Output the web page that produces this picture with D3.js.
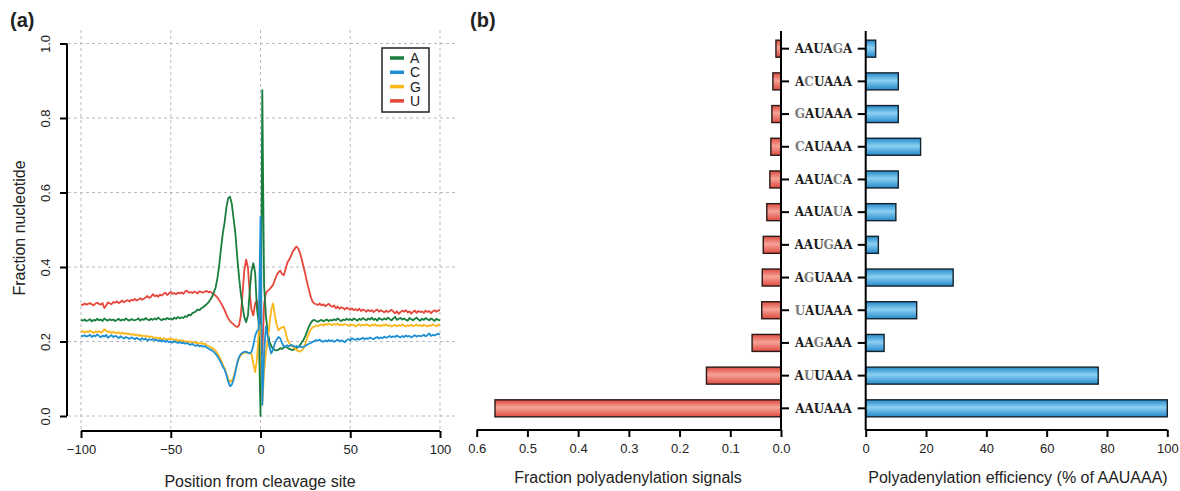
<!DOCTYPE html>
<html>
<head>
<meta charset="utf-8">
<script src="https://cdn.jsdelivr.net/npm/d3@7"></script>
<style>
  body { margin: 0; background: #fff; }
  svg { display: block; font-family: "Liberation Sans", Arial, sans-serif; }
</style>
</head>
<body>
<svg id="chart" width="1180" height="491"></svg>
<script>
// ---- panel (a): nucleotide profile around the cleavage site ----
const positions = d3.range(-100, 101);

const fracU = [
  0.300,0.298,0.302,0.299,0.301,0.303,0.300,0.297,0.302,0.304,
  0.301,0.299,0.303,0.290,0.296,0.305,0.302,0.300,0.306,0.304,
  0.308,0.303,0.306,0.310,0.305,0.309,0.311,0.307,0.312,0.310,
  0.314,0.310,0.313,0.316,0.312,0.315,0.318,0.322,0.317,0.320,
  0.327,0.322,0.324,0.320,0.326,0.323,0.328,0.331,0.325,0.329,
  0.333,0.328,0.330,0.327,0.331,0.329,0.332,0.328,0.334,0.337,
  0.331,0.333,0.330,0.334,0.332,0.329,0.335,0.333,0.331,0.334,
  0.336,0.332,0.334,0.330,0.327,0.323,0.318,0.311,0.303,0.294,
  0.284,0.272,0.262,0.255,0.250,0.246,0.241,0.239,0.243,0.268,
  0.330,0.392,0.420,0.398,0.330,0.285,0.270,0.302,0.310,0.285,
  0.205,0.165,0.300,0.330,0.336,0.340,0.346,0.352,0.365,0.378,
  0.386,0.390,0.381,0.378,0.395,0.412,0.420,0.430,0.442,0.448,
  0.455,0.450,0.438,0.420,0.400,0.380,0.358,0.338,0.320,0.307,
  0.302,0.300,0.298,0.302,0.297,0.300,0.295,0.298,0.301,0.296,
  0.293,0.297,0.289,0.294,0.288,0.292,0.290,0.286,0.291,0.288,
  0.285,0.289,0.284,0.287,0.283,0.288,0.282,0.286,0.284,0.280,
  0.285,0.281,0.284,0.279,0.283,0.286,0.280,0.284,0.281,0.278,
  0.283,0.279,0.282,0.285,0.280,0.276,0.281,0.274,0.279,0.283,
  0.280,0.284,0.278,0.281,0.275,0.280,0.283,0.277,0.282,0.279,
  0.281,0.277,0.283,0.279,0.282,0.276,0.281,0.284,0.280,0.283,0.285
];

const fracA = [
  0.258,0.256,0.259,0.255,0.257,0.260,0.254,0.258,0.256,0.261,
  0.257,0.259,0.255,0.262,0.258,0.256,0.260,0.257,0.259,0.255,
  0.258,0.261,0.256,0.259,0.257,0.262,0.258,0.256,0.260,0.258,
  0.257,0.259,0.262,0.256,0.260,0.258,0.263,0.259,0.257,0.261,
  0.258,0.262,0.259,0.264,0.260,0.257,0.261,0.259,0.263,0.260,
  0.262,0.259,0.264,0.261,0.266,0.262,0.265,0.263,0.268,0.266,
  0.272,0.270,0.276,0.278,0.281,0.286,0.284,0.289,0.292,0.296,
  0.300,0.305,0.312,0.320,0.332,0.345,0.370,0.405,0.450,0.490,
  0.520,0.560,0.585,0.589,0.570,0.530,0.490,0.430,0.375,0.330,
  0.295,0.265,0.252,0.270,0.335,0.390,0.410,0.385,0.290,0.250,
  0.000,0.875,0.350,0.270,0.225,0.200,0.188,0.180,0.177,0.176,
  0.178,0.182,0.180,0.184,0.186,0.183,0.180,0.178,0.177,0.180,
  0.182,0.185,0.190,0.198,0.205,0.215,0.228,0.240,0.250,0.256,
  0.258,0.255,0.253,0.256,0.258,0.254,0.257,0.259,0.255,0.258,
  0.256,0.260,0.257,0.262,0.258,0.255,0.259,0.257,0.261,0.258,
  0.260,0.257,0.262,0.259,0.256,0.261,0.258,0.263,0.260,0.257,
  0.262,0.259,0.264,0.258,0.261,0.256,0.263,0.260,0.258,0.262,
  0.259,0.264,0.260,0.257,0.262,0.266,0.258,0.261,0.263,0.259,
  0.262,0.258,0.256,0.263,0.260,0.257,0.261,0.264,0.259,0.256,
  0.261,0.258,0.263,0.260,0.257,0.262,0.259,0.255,0.261,0.258,0.257
];

const fracC = [
  0.216,0.214,0.217,0.213,0.215,0.218,0.212,0.216,0.214,0.219,
  0.215,0.211,0.216,0.213,0.218,0.210,0.214,0.217,0.212,0.215,
  0.213,0.209,0.214,0.211,0.208,0.212,0.210,0.207,0.211,0.209,
  0.206,0.210,0.207,0.204,0.209,0.205,0.208,0.203,0.206,0.204,
  0.207,0.203,0.205,0.201,0.204,0.200,0.203,0.199,0.202,0.198,
  0.200,0.197,0.201,0.198,0.196,0.199,0.195,0.197,0.194,0.196,
  0.193,0.191,0.194,0.190,0.188,0.191,0.187,0.189,0.186,0.188,
  0.184,0.181,0.178,0.176,0.172,0.167,0.160,0.152,0.143,0.132,
  0.125,0.110,0.092,0.080,0.084,0.097,0.118,0.142,0.158,0.166,
  0.170,0.172,0.173,0.170,0.168,0.172,0.190,0.215,0.228,0.232,
  0.535,0.030,0.170,0.240,0.215,0.185,0.168,0.178,0.195,0.205,
  0.212,0.208,0.196,0.186,0.188,0.190,0.187,0.191,0.189,0.186,
  0.188,0.185,0.187,0.184,0.186,0.188,0.191,0.194,0.196,0.199,
  0.201,0.204,0.202,0.205,0.201,0.199,0.203,0.200,0.204,0.201,
  0.203,0.199,0.202,0.205,0.200,0.203,0.201,0.198,0.204,0.206,
  0.203,0.209,0.206,0.204,0.208,0.205,0.207,0.210,0.206,0.209,
  0.207,0.211,0.208,0.206,0.210,0.212,0.208,0.211,0.209,0.213,
  0.210,0.212,0.215,0.211,0.214,0.212,0.216,0.213,0.211,0.215,
  0.212,0.216,0.213,0.215,0.211,0.214,0.217,0.213,0.216,0.214,
  0.215,0.218,0.214,0.217,0.222,0.215,0.218,0.216,0.219,0.221,0.218
];

const fracG = [
  0.226,0.228,0.224,0.227,0.225,0.229,0.226,0.223,0.227,0.225,
  0.228,0.224,0.226,0.233,0.229,0.225,0.227,0.223,0.226,0.224,
  0.222,0.225,0.221,0.224,0.220,0.223,0.219,0.221,0.218,0.220,
  0.217,0.219,0.215,0.218,0.214,0.216,0.213,0.215,0.211,0.214,
  0.212,0.209,0.211,0.208,0.210,0.206,0.209,0.207,0.205,0.208,
  0.205,0.207,0.203,0.206,0.202,0.204,0.201,0.203,0.199,0.201,
  0.198,0.200,0.197,0.199,0.195,0.197,0.194,0.196,0.193,0.195,
  0.190,0.188,0.185,0.183,0.180,0.175,0.168,0.160,0.150,0.138,
  0.128,0.114,0.100,0.092,0.095,0.104,0.122,0.140,0.155,0.163,
  0.167,0.170,0.171,0.169,0.170,0.165,0.140,0.118,0.150,0.225,
  0.245,0.030,0.120,0.170,0.200,0.245,0.285,0.302,0.270,0.245,
  0.230,0.235,0.238,0.240,0.225,0.205,0.196,0.190,0.186,0.182,
  0.178,0.174,0.173,0.176,0.182,0.195,0.210,0.222,0.232,0.238,
  0.240,0.243,0.241,0.244,0.246,0.243,0.247,0.245,0.248,0.246,
  0.244,0.247,0.245,0.248,0.243,0.246,0.244,0.247,0.245,0.242,
  0.246,0.243,0.245,0.240,0.244,0.246,0.242,0.245,0.243,0.246,
  0.244,0.241,0.245,0.243,0.246,0.242,0.244,0.241,0.245,0.243,
  0.246,0.242,0.244,0.240,0.243,0.245,0.241,0.244,0.242,0.246,
  0.243,0.240,0.244,0.242,0.245,0.241,0.243,0.246,0.242,0.244,
  0.241,0.245,0.243,0.240,0.244,0.242,0.246,0.243,0.241,0.245,0.244
];

const nucleotides = ["A", "C", "G", "U"];
const nucColors = ["#187d3d", "#1f8fd3", "#fbb61a", "#e5473b"];
const xTicksA = [-100, -50, 0, 50, 100];
const yTicksA = [0, 0.2, 0.4, 0.6, 0.8, 1.0];

// ---- panel (b): polyadenylation signals ----
const motifs = ["AAUAGA", "ACUAAA", "GAUAAA", "CAUAAA", "AAUACA", "AAUAUA",
                "AAUGAA", "AGUAAA", "UAUAAA", "AAGAAA", "AUUAAA", "AAUAAA"];
const signalFraction = [0.010, 0.016, 0.018, 0.020, 0.022, 0.028,
                        0.035, 0.037, 0.038, 0.057, 0.147, 0.564];
const efficiency = [3.3, 10.8, 10.8, 18.2, 10.8, 10.0,
                    4.2, 29.0, 16.9, 6.1, 77.1, 100];
const fracTicks = [0.6, 0.5, 0.4, 0.3, 0.2, 0.1, 0.0];
const effTicks = [0, 20, 40, 60, 80, 100];
const canonical = "AAUAAA";

const svg = d3.select("#chart");
const grey = "#b9b9b9";

// gradients for bars
const defs = svg.append("defs");
function addGradient(id, edge, mid) {
  const g = defs.append("linearGradient").attr("id", id)
    .attr("x1", 0).attr("y1", 0).attr("x2", 0).attr("y2", 1);
  g.append("stop").attr("offset", "0%").attr("stop-color", edge);
  g.append("stop").attr("offset", "45%").attr("stop-color", mid);
  g.append("stop").attr("offset", "100%").attr("stop-color", edge);
}
addGradient("redGrad", "#de4a3f", "#f6a398");
addGradient("blueGrad", "#2589c9", "#8cd0f3");

// ================= panel (a) =================
const x = d3.scaleLinear().domain([-100, 100]).range([81, 440]);
const y = d3.scaleLinear().domain([0, 1]).range([416, 43.5]);
const ga = svg.append("g");

// grid
ga.selectAll(".vgrid").data(xTicksA).join("line")
  .attr("x1", d => x(d)).attr("x2", d => x(d))
  .attr("y1", 30).attr("y2", 430)
  .attr("stroke", grey).attr("stroke-dasharray", "3,3");
ga.selectAll(".hgrid").data(yTicksA).join("line")
  .attr("x1", 68).attr("x2", 455)
  .attr("y1", d => y(d)).attr("y2", d => y(d))
  .attr("stroke", grey).attr("stroke-dasharray", "3,3");

// lines
const series = [fracA, fracC, fracG, fracU];
const line = d3.line().x((d, i) => x(positions[i])).y(d => y(d));
const drawOrder = [3, 0, 2, 1];
drawOrder.forEach(k => {
  ga.append("path").datum(series[k])
    .attr("d", line)
    .attr("fill", "none")
    .attr("stroke", nucColors[k])
    .attr("stroke-width", 1.8)
    .attr("stroke-linejoin", "round");
});

// axes
const yAxisA = ga.append("g").attr("transform", "translate(67,0)")
  .call(d3.axisLeft(y).tickValues(yTicksA).tickSize(7).tickFormat(d3.format(".1f")));
yAxisA.select(".domain").attr("d", `M0,${y(0)}V${y(1)}`).attr("stroke-width", 2);
yAxisA.selectAll(".tick line").attr("stroke-width", 2);
yAxisA.selectAll(".tick text")
  .attr("transform", "translate(-17,0) rotate(-90)")
  .attr("x", 0).attr("dy", 0).attr("y", 0)
  .attr("text-anchor", "middle")
  .attr("font-size", 13).attr("fill", "#222");

const xAxisA = ga.append("g").attr("transform", "translate(0,431)")
  .call(d3.axisBottom(x).tickValues(xTicksA).tickSize(7)
    .tickFormat(d => d < 0 ? "\u2212" + Math.abs(d) : d));
xAxisA.select(".domain").attr("d", `M${x(-100)},0H${x(100)}`).attr("stroke-width", 2);
xAxisA.selectAll(".tick line").attr("stroke-width", 2);
xAxisA.selectAll(".tick text").attr("y", 14).attr("font-size", 13).attr("fill", "#222");

ga.append("text").attr("x", 260).attr("y", 487)
  .attr("text-anchor", "middle").attr("font-size", 16).attr("fill", "#222")
  .text("Position from cleavage site");
ga.append("text").attr("transform", "translate(25,228) rotate(-90)")
  .attr("text-anchor", "middle").attr("font-size", 16).attr("fill", "#222")
  .text("Fraction nucleotide");

// legend
const lg = ga.append("g");
lg.append("rect").attr("x", 382).attr("y", 48).attr("width", 47).attr("height", 64)
  .attr("fill", "#fff").attr("stroke", "#222").attr("stroke-width", 1.5);
nucleotides.forEach((n, i) => {
  const yy = 58 + i * 14.3;
  lg.append("line").attr("x1", 390).attr("x2", 404).attr("y1", yy).attr("y2", yy)
    .attr("stroke", nucColors[i]).attr("stroke-width", 3.5);
  lg.append("text").attr("x", 410).attr("y", yy).attr("dy", "0.36em")
    .attr("font-size", 14).attr("fill", "#222").text(n);
});

ga.append("text").attr("x", 10).attr("y", 27).attr("font-size", 20)
  .attr("font-weight", "bold").attr("fill", "#222").text("(a)");

// ================= panel (b) =================
const gb = svg.append("g");
const band = d3.scaleBand().domain(motifs).range([32, 425])
  .paddingInner(0.48).paddingOuter(0.25);
const xf = d3.scaleLinear().domain([0, 0.6]).range([781, 476.7]);
const xe = d3.scaleLinear().domain([0, 100]).range([865.7, 1167.3]);

gb.selectAll(".fbar").data(motifs).join("rect")
  .attr("x", (d, i) => xf(signalFraction[i]))
  .attr("y", d => band(d))
  .attr("width", (d, i) => xf(0) - xf(signalFraction[i]))
  .attr("height", band.bandwidth())
  .attr("fill", "url(#redGrad)")
  .attr("stroke", "#2a1a18").attr("stroke-width", 1.4);

gb.selectAll(".ebar").data(motifs).join("rect")
  .attr("x", xe(0))
  .attr("y", d => band(d))
  .attr("width", (d, i) => xe(efficiency[i]) - xe(0))
  .attr("height", band.bandwidth())
  .attr("fill", "url(#blueGrad)")
  .attr("stroke", "#14232e").attr("stroke-width", 1.4);

// category axes
const yLeft = gb.append("g").attr("transform", "translate(781,0)")
  .call(d3.axisRight(band).tickSize(8).tickFormat(""));
yLeft.select(".domain").attr("d", "M0,31V430").attr("stroke-width", 2);
yLeft.selectAll(".tick line").attr("stroke-width", 2);

const yRight = gb.append("g").attr("transform", "translate(865.7,0)")
  .call(d3.axisLeft(band).tickSize(8).tickFormat(""));
yRight.select(".domain").attr("d", "M0,31V430").attr("stroke-width", 2);
yRight.selectAll(".tick line").attr("stroke-width", 2);

// motif labels, the letter differing from the canonical signal in grey
motifs.forEach(m => {
  const t = gb.append("text")
    .attr("x", 823.5).attr("y", band(m) + band.bandwidth() / 2).attr("dy", "0.36em")
    .attr("text-anchor", "middle")
    .attr("font-family", "'DejaVu Serif', serif")
    .attr("font-weight", "bold").attr("font-size", 12);
  m.split("").forEach((c, j) => {
    t.append("tspan").attr("fill", c === canonical[j] ? "#1c1c1c" : "#7a7a7a").text(c);
  });
});

// bottom axes
const xAxisF = gb.append("g").attr("transform", "translate(0,430)")
  .call(d3.axisBottom(xf).tickValues(fracTicks).tickSize(7).tickFormat(d3.format(".1f")));
xAxisF.select(".domain").attr("d", `M${xf(0.6)},0H${xf(0)}`).attr("stroke-width", 2);
xAxisF.selectAll(".tick line").attr("stroke-width", 2);
xAxisF.selectAll(".tick text").attr("y", 14).attr("font-size", 13).attr("fill", "#222");

const xAxisE = gb.append("g").attr("transform", "translate(0,430)")
  .call(d3.axisBottom(xe).tickValues(effTicks).tickSize(7));
xAxisE.select(".domain").attr("d", `M${xe(0)},0H${xe(100)}`).attr("stroke-width", 2);
xAxisE.selectAll(".tick line").attr("stroke-width", 2);
xAxisE.selectAll(".tick text").attr("y", 14).attr("font-size", 13).attr("fill", "#222");

gb.append("text").attr("x", 628).attr("y", 483)
  .attr("text-anchor", "middle").attr("font-size", 16).attr("fill", "#222")
  .text("Fraction polyadenylation signals");
gb.append("text").attr("x", 1018).attr("y", 483)
  .attr("text-anchor", "middle").attr("font-size", 16).attr("fill", "#222")
  .text("Polyadenylation efficiency (% of AAUAAA)");

gb.append("text").attr("x", 470).attr("y", 27).attr("font-size", 20)
  .attr("font-weight", "bold").attr("fill", "#222").text("(b)");
</script>
</body>
</html>
